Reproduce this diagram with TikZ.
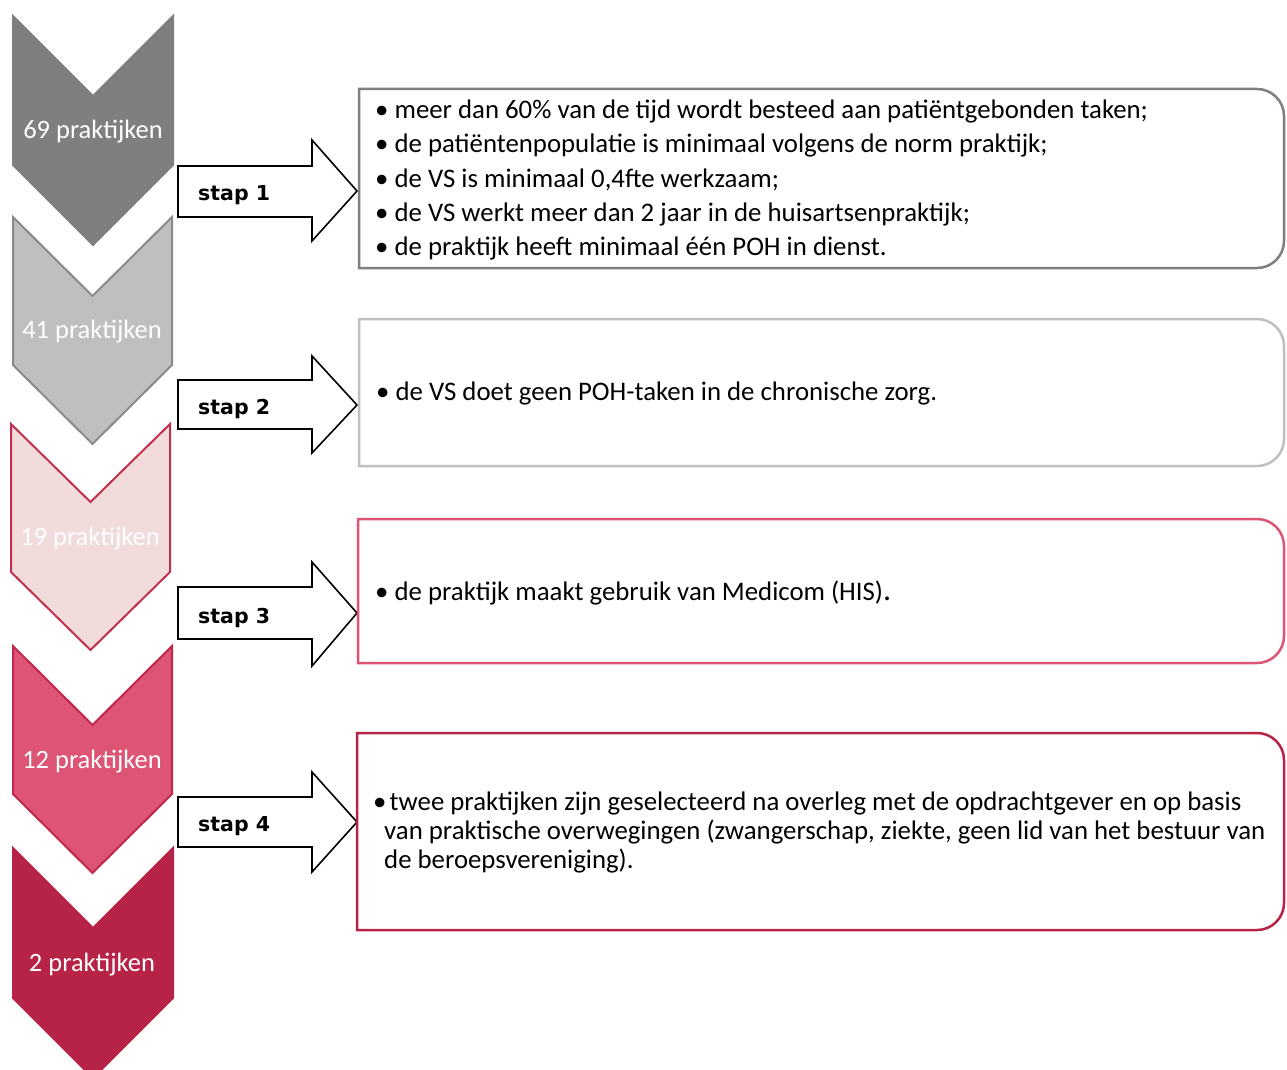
\documentclass[tikz,border=0pt]{standalone}
\usepackage{fontspec}
\setmainfont{Carlito}
\newfontfamily\stapfont{DejaVu Sans}
\definecolor{grayA}{HTML}{7F7F7F}
\definecolor{grayB}{HTML}{BFBFBF}
\definecolor{grayBline}{HTML}{8A8A8A}
\definecolor{pinkA}{HTML}{F2DCDB}
\definecolor{pinkAline}{HTML}{C0304F}
\definecolor{pinkB}{HTML}{DD5474}
\definecolor{pinkBline}{HTML}{C0284C}
\definecolor{pinkC}{HTML}{B72347}
\newcommand\mychev[7]{% l r t s d fill line
  \filldraw[fill=#6,draw=#7,line width=2pt,line join=miter]
    (#1,-#3) -- ({(#1+#2)/2},{-(#3+#5)}) -- (#2,-#3) -- (#2,-#4)
    -- ({(#1+#2)/2},{-(#4+#5)}) -- (#1,-#4) -- cycle;}
\newcommand\myblockarrow[5]{% bodytop bodybottom headtop headbottom tip
  \draw[blockarrow] (178,-#1) -- (312,-#1) -- (312,-#3) -- (357,-#5)
    -- (312,-#4) -- (312,-#2) -- (178,-#2) -- cycle;}
\newcommand\myrbox[5]{% l t r b color
  \draw[line width=2.5pt,draw=#5] (#1,-#2) -- ({#3-27},-#2)
    arc[start angle=90,end angle=0,radius=27] -- (#3,{-(#4-27)})
    arc[start angle=0,end angle=-90,radius=27] -- (#1,-#4) -- cycle;}
\tikzset{
  chevlabel/.style={text=white,font=\fontsize{26.5}{30}\selectfont,inner sep=0pt,anchor=base},
  staplabel/.style={font=\stapfont\bfseries\fontsize{20.5}{24}\selectfont,inner sep=0pt,anchor=base west},
  boxtext/.style={font=\fontsize{26.8}{30}\selectfont,inner sep=0pt,anchor=base west},
  blockarrow/.style={draw=black,fill=white,line width=1.6pt,line join=miter},
}
\begin{document}
\begin{tikzpicture}[x=1pt,y=1pt]
\useasboundingbox (0,0) rectangle (1287,-1070);
% chevrons
\mychev{13}{173}{16}{165}{80}{grayA}{grayA}
\mychev{13}{172}{217}{365}{79}{grayB}{grayBline}
\mychev{11}{170}{424}{572}{78}{pinkA}{pinkAline}
\mychev{13}{172}{646}{794}{79}{pinkB}{pinkBline}
\mychev{13}{173}{848}{998}{80}{pinkC}{pinkC}
\node[chevlabel] (c1) at (93,-139) {69 praktijken};
\node[chevlabel] (c2) at (92,-338) {41 praktijken};
\node[chevlabel] (c3) at (90,-545) {19 praktijken};
\node[chevlabel] (c4) at (92,-768) {12 praktijken};
\node[chevlabel] (c5) at (92,-971) {2 praktijken};
% block arrows
\myblockarrow{166}{217}{140}{241}{191}
\myblockarrow{380}{429}{356}{453}{405}
\myblockarrow{587}{639}{562}{666}{613}
\myblockarrow{797}{847}{772}{872}{822}
\node[staplabel] (s1) at (198,-200) {stap 1};
\node[staplabel] (s2) at (198,-414) {stap 2};
\node[staplabel] (s3) at (198,-623) {stap 3};
\node[staplabel] (s4) at (198,-831) {stap 4};
% boxes
\myrbox{359}{89}{1284}{268}{grayA}
\myrbox{359}{319}{1284}{466}{grayB}
\myrbox{358}{519}{1284}{663}{pinkB}
\myrbox{357}{733}{1284}{930}{pinkC}
\node[boxtext] (b1a) at (375,-118) {• meer dan 60\% van de tijd wordt besteed aan patiëntgebonden taken;};
\node[boxtext] (b1b) at (375,-152.5) {• de patiëntenpopulatie is minimaal volgens de norm praktijk;};
\node[boxtext] (b1c) at (375,-187) {• de VS is minimaal 0,4fte werkzaam;};
\node[boxtext] (b1d) at (375,-221) {• de VS werkt meer dan 2 jaar in de huisartsenpraktijk;};
\node[boxtext] (b1e) at (375,-255.5) {• de praktijk heeft minimaal één POH in dienst.};
\node[boxtext] (b2a) at (376,-400) {• de VS doet geen POH-taken in de chronische zorg.};
\node[boxtext] (b3a) at (375,-600) {• de praktijk maakt gebruik van Medicom (HIS){\fontsize{32}{32}\selectfont .}};
\node[boxtext] (b4a) at (373,-810) {•\hspace{0.12em}twee praktijken zijn geselecteerd na overleg met de opdrachtgever en op basis};
\node[boxtext] (b4b) at (384,-839) {van praktische overwegingen (zwangerschap, ziekte, geen lid van het bestuur van};
\node[boxtext] (b4c) at (384,-868) {de beroepsvereniging).};
\end{tikzpicture}
\end{document}
